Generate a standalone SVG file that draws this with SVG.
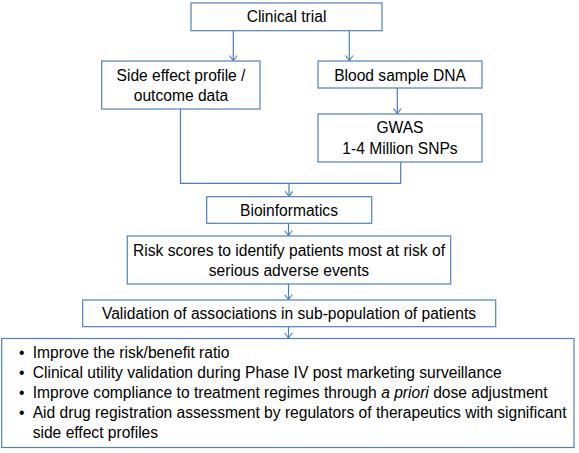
<svg xmlns="http://www.w3.org/2000/svg" width="579" height="453" viewBox="0 0 579 453">
<defs>
<style>
.box{fill:#ffffff;stroke:#4f81bd;stroke-width:1.2}
.con{fill:none;stroke:#4a7ebb;stroke-width:1.2}
text{font-family:"Liberation Sans",Arial,sans-serif;font-size:15.6px;fill:#000}
.c{text-anchor:middle}
</style>
<marker id="arr" markerUnits="userSpaceOnUse" markerWidth="10" markerHeight="10" viewBox="-6 -5 7 10" refX="0" refY="0" orient="auto">
<path d="M-5,-3.8 L0,0 L-5,3.8" fill="none" stroke="#4a7ebb" stroke-width="1.1"/>
</marker>
</defs>
<rect width="579" height="453" fill="#ffffff"/>
<g id="connectors">
<line class="con" x1="233.3" y1="30.7" x2="233.3" y2="60.5" marker-end="url(#arr)"/>
<line class="con" x1="349.3" y1="30.7" x2="349.3" y2="60.5" marker-end="url(#arr)"/>
<line class="con" x1="397.3" y1="88" x2="397.3" y2="113.5" marker-end="url(#arr)"/>
<polyline class="con" points="180.5,109 180.5,183.3 400.7,183.3 400.7,162"/>
<line class="con" x1="289" y1="183.3" x2="289" y2="196.3" marker-end="url(#arr)"/>
<line class="con" x1="288.5" y1="223.3" x2="288.5" y2="235.5" marker-end="url(#arr)"/>
<line class="con" x1="288.5" y1="284" x2="288.5" y2="299.5" marker-end="url(#arr)"/>
<line class="con" x1="288.5" y1="326.7" x2="288.5" y2="338" marker-end="url(#arr)"/>
</g>
<g id="clinical-trial">
<rect class="box" x="191" y="3" width="191" height="27.7"/>
<text class="c" x="286.5" y="22">Clinical trial</text>
</g>
<g id="side-effect">
<rect class="box" x="101.7" y="61" width="158.3" height="48"/>
<text class="c" x="181" y="80.5">Side effect profile /</text>
<text class="c" x="181" y="101">outcome data</text>
</g>
<g id="blood-sample">
<rect class="box" x="318" y="61" width="164" height="27"/>
<text class="c" x="400" y="80.5">Blood sample DNA</text>
</g>
<g id="gwas">
<rect class="box" x="318" y="114" width="164" height="48"/>
<text class="c" x="400" y="133">GWAS</text>
<text class="c" x="400" y="153.8">1-4 Million SNPs</text>
</g>
<g id="bioinformatics">
<rect class="box" x="206.7" y="196.7" width="165" height="26.6"/>
<text class="c" x="289" y="215.5">Bioinformatics</text>
</g>
<g id="risk-scores">
<rect class="box" x="127.3" y="236" width="323.4" height="48"/>
<text class="c" x="289" y="255.5">Risk scores to identify patients most at risk of</text>
<text class="c" x="289" y="275.5">serious adverse events</text>
</g>
<g id="validation">
<rect class="box" x="82.7" y="300" width="413" height="26.7"/>
<text class="c" x="289" y="318.8">Validation of associations in sub-population of patients</text>
</g>
<g id="outcomes">
<rect class="box" x="1.7" y="338.5" width="572.3" height="109"/>
<text x="19" y="357.5">•</text><text x="32.7" y="357.5">Improve the risk/benefit ratio</text>
<text x="19" y="377.5">•</text><text x="32.7" y="377.5">Clinical utility validation during Phase IV post marketing surveillance</text>
<text x="19" y="397.5">•</text><text x="32.7" y="397.5">Improve compliance to treatment regimes through <tspan font-style="italic">a priori</tspan> dose adjustment</text>
<text x="19" y="417.5">•</text><text x="32.7" y="417.5">Aid drug registration assessment by regulators of therapeutics with significant</text>
<text x="32.7" y="437.5">side effect profiles</text>
</g>
</svg>
